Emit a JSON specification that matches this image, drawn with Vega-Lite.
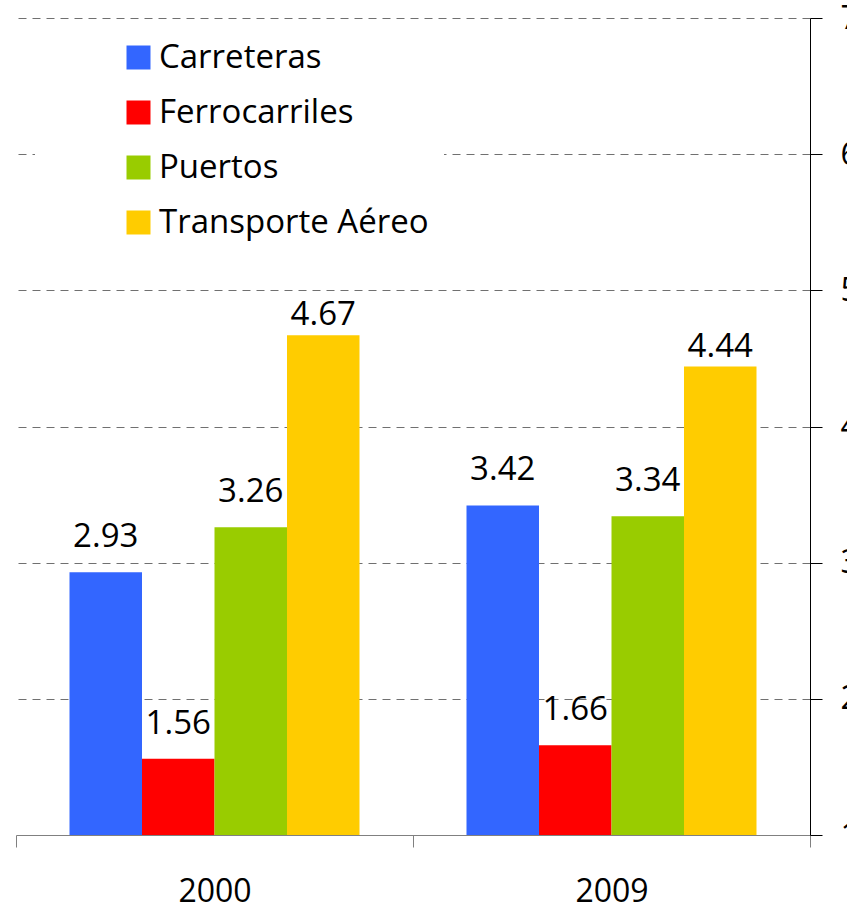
{
  "$schema": "https://vega.github.io/schema/vega-lite/v6.json",
  "width": 794,
  "height": 817,
  "autosize": {"type": "none"},
  "padding": {"left": 16, "top": 18, "right": 37, "bottom": 76},
  "background": "white",
  "config": {"view": {"stroke": null}, "font": "Open Sans"},
  "data": {"values": [
    {"year": "2000", "modo": "Carreteras", "valor": 2.93},
    {"year": "2000", "modo": "Ferrocarriles", "valor": 1.56},
    {"year": "2000", "modo": "Puertos", "valor": 3.26},
    {"year": "2000", "modo": "Transporte Aéreo", "valor": 4.67},
    {"year": "2009", "modo": "Carreteras", "valor": 3.42},
    {"year": "2009", "modo": "Ferrocarriles", "valor": 1.66},
    {"year": "2009", "modo": "Puertos", "valor": 3.34},
    {"year": "2009", "modo": "Transporte Aéreo", "valor": 4.44}
  ]},
  "encoding": {
    "x": {
      "field": "year", "type": "nominal",
      "scale": {"paddingInner": 0, "paddingOuter": 0},
      "axis": {
        "title": null, "labelAngle": 0, "tickBand": "extent", "tickSize": 12,
        "tickColor": "#808080", "domainColor": "#808080", "labelFontSize": 32,
        "labelColor": "black", "labelPadding": 29, "grid": false, "labelFont": "Open Sans"
      }
    },
    "xOffset": {
      "field": "modo", "type": "nominal",
      "sort": ["Carreteras", "Ferrocarriles", "Puertos", "Transporte Aéreo"],
      "scale": {"paddingInner": 0, "paddingOuter": 0.738}
    }
  },
  "layer": [
    {
      "mark": {"type": "bar"},
      "encoding": {
        "y": {
          "field": "valor", "type": "quantitative",
          "scale": {"domain": [1, 7], "zero": false, "nice": false},
          "axis": {
            "orient": "right", "values": [1, 2, 3, 4, 5, 6, 7], "title": null,
            "tickSize": 12, "tickColor": "black", "domainColor": "black",
            "labelFontSize": 32, "labelColor": "black", "labelPadding": 18,
            "labelAlign": "left", "labelBaseline": "middle", "labelFlush": false,
            "labelOverlap": false, "grid": true, "gridDash": [8, 6], "gridColor": "#707070",
            "format": "d"
          }
        },
        "y2": {"datum": 1},
        "color": {
          "field": "modo", "type": "nominal",
          "sort": ["Carreteras", "Ferrocarriles", "Puertos", "Transporte Aéreo"],
          "scale": {
            "domain": ["Carreteras", "Ferrocarriles", "Puertos", "Transporte Aéreo"],
            "range": ["#3366FF", "#FF0000", "#99CC00", "#FFCC00"]
          },
          "legend": {
            "title": null, "orient": "none", "legendX": 19, "legendY": 8,
            "fillColor": "white", "padding": 15, "symbolType": "square",
            "symbolSize": 576, "symbolOffset": 72, "labelOffset": 4,
            "labelFontSize": 33, "labelColor": "black", "rowPadding": 21,
            "labelLimit": 800, "symbolStrokeWidth": 0, "symbolOpacity": 1
          }
        }
      }
    },
    {
      "transform": [{"filter": "datum.modo !== 'Transporte Aéreo'"}],
      "mark": {"type": "text", "dy": -25, "baseline": "alphabetic", "fontSize": 33, "color": "black"},
      "encoding": {
        "y": {"field": "valor", "type": "quantitative"},
        "text": {"field": "valor", "type": "quantitative", "format": ".2f"}
      }
    },
    {
      "transform": [{"filter": "datum.modo === 'Transporte Aéreo'"}],
      "mark": {"type": "text", "dy": -10, "baseline": "alphabetic", "fontSize": 33, "color": "black"},
      "encoding": {
        "y": {"field": "valor", "type": "quantitative"},
        "text": {"field": "valor", "type": "quantitative", "format": ".2f"}
      }
    }
  ]
}
